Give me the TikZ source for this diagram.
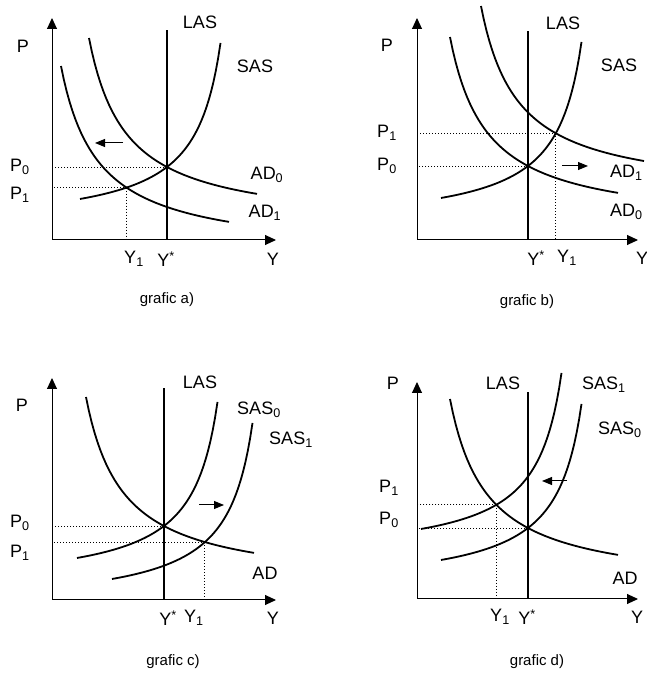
\documentclass[tikz,border=0pt]{standalone}
\usepackage{fontspec}
\setmainfont{Liberation Sans}
\usetikzlibrary{arrows.meta}

\tikzset{
  axis/.style={line width=1pt, -{Triangle[length=11pt,width=10pt]}},
  curve/.style={line width=1.8pt},
  las/.style={line width=1.8pt},
  guide/.style={line width=0.9pt, dash pattern=on 0.9pt off 2.1pt},
  push/.style={line width=1pt, -{Triangle[length=10pt,width=8pt]}},
  lbl/.style={inner sep=0pt, font=\fontsize{18}{20}\selectfont},
  graftext/.style={inner sep=0pt, font=\fontsize{15}{17}\selectfont},
  sas/.style={domain=-87:53.5},
  ad/.style={domain=-78:90}
}

\begin{document}
\begin{tikzpicture}[x=1pt, y=1pt, samples=60,
  declare function={sas(\x)=-61.4+4914/(80-\x); ad(\x)=-61.2+7036/(\x+115);}]
\useasboundingbox (0,0) rectangle (647,673);

% graf a): AD shifts left
\begin{scope}[shift={(52,433)}]
  \coordinate (a-o) at (0,0);
  \coordinate (a-top) at (0,222);
  \coordinate (a-right) at (224,0);
  \coordinate (a-las) at (115,210);
  \begin{scope}[shift={(115,73)}]
    \coordinate (a-e0) at (0,0);
    \coordinate (a-e1) at (-40.4,-20.6);
    \coordinate (a-from) at (-44,24);
    \coordinate (a-to) at (-72,24);
    \draw[guide] (a-e0) -- (a-e0 -| a-o);
    \draw[guide] (a-e1) -- (a-e1 -| a-o);
    \draw[guide] (a-e1) -- (a-e1 |- a-o);
    \draw[curve,sas] plot (\x,{sas(\x)});
    \draw[curve,ad] plot (\x,{ad(\x)});
    \draw[curve,ad,xshift=-28pt,yshift=-28pt] plot (\x,{ad(\x)});
  \end{scope}
  \draw[axis] (a-o) -- (a-top);
  \draw[axis] (a-o) -- (a-right);
  \draw[las] (a-las |- a-o) -- (a-las);
  \draw[push] (a-from) -- (a-to);

  \node[lbl] (a-P) at (-29,194) {P};
  \node[lbl] (a-LAS) at (148,218) {LAS};
  \node[lbl] (a-SAS) at (203,174) {SAS};
  \node[lbl] (a-P0) at (-32,73) {P\textsubscript{0}};
  \node[lbl] (a-P1) at (-32,45) {P\textsubscript{1}};
  \node[lbl] (a-AD0) at (215,65) {AD\textsubscript{0}};
  \node[lbl] (a-AD1) at (213,27) {AD\textsubscript{1}};
  \node[lbl] (a-Y1) at (82,-19) {Y\textsubscript{1}};
  \node[lbl] (a-Ys) at (114,-19) {Y\textsuperscript{*}};
  \node[lbl] (a-Y) at (221,-19) {Y};
  \node[graftext] (a-cap) at (115,-60) {grafic a)};
\end{scope}

% graf b): AD shifts right
\begin{scope}[shift={(417,433)}]
  \coordinate (b-o) at (0,0);
  \coordinate (b-top) at (0,222);
  \coordinate (b-right) at (221,0);
  \coordinate (b-las) at (111,209);
  \begin{scope}[shift={(111,74)}]
    \coordinate (b-e0) at (0,0);
    \coordinate (b-e1) at (27.8,32.7);
    \coordinate (b-from) at (34,0);
    \coordinate (b-to) at (60,0);
    \draw[guide] (b-e0) -- (b-e0 -| b-o);
    \draw[guide] (b-e1) -- (b-e1 -| b-o);
    \draw[guide] (b-e1) -- (b-e1 |- b-o);
    \draw[curve,sas] plot (\x,{sas(\x)});
    \draw[curve,ad] plot (\x,{ad(\x)});
    \draw[curve,ad,domain=-78:85,xshift=31pt,yshift=31pt] plot (\x,{ad(\x)});
  \end{scope}
  \draw[axis] (b-o) -- (b-top);
  \draw[axis] (b-o) -- (b-right);
  \draw[las] (b-las |- b-o) -- (b-las);
  \draw[push] (b-from) -- (b-to);

  \node[lbl] (b-P) at (-30,195) {P};
  \node[lbl] (b-LAS) at (146,217) {LAS};
  \node[lbl] (b-SAS) at (202,175) {SAS};
  \node[lbl] (b-P1) at (-30,107) {P\textsubscript{1}};
  \node[lbl] (b-P0) at (-30,74) {P\textsubscript{0}};
  \node[lbl, anchor=west] (b-AD1) at (193,67) {AD\textsubscript{1}};
  \node[lbl, anchor=west] (b-AD0) at (193,28) {AD\textsubscript{0}};
  \node[lbl] (b-Ys) at (119,-18) {Y\textsuperscript{*}};
  \node[lbl] (b-Y1) at (150,-18) {Y\textsubscript{1}};
  \node[lbl] (b-Y) at (225,-18) {Y};
  \node[graftext] (b-cap) at (110,-62) {grafic b)};
\end{scope}

% graf c): SAS shifts right
\begin{scope}[shift={(52,73)}]
  \coordinate (c-o) at (0,0);
  \coordinate (c-top) at (0,222);
  \coordinate (c-right) at (224,0);
  \coordinate (c-las) at (112,212);
  \begin{scope}[shift={(112,74)}]
    \coordinate (c-e0) at (0,0);
    \coordinate (c-e1) at (40.9,-16.05);
    \coordinate (c-from) at (35,21);
    \coordinate (c-to) at (60,21);
    \draw[guide] (c-e0) -- (c-e0 -| c-o);
    \draw[guide] (c-e1) -- (c-e1 -| c-o);
    \draw[guide] (c-e1) -- (c-e1 |- c-o);
    \draw[curve,ad] plot (\x,{ad(\x)});
    \draw[curve,sas] plot (\x,{sas(\x)});
    \draw[curve,sas,xshift=35pt,yshift=-21pt] plot (\x,{sas(\x)});
  \end{scope}
  \draw[axis] (c-o) -- (c-top);
  \draw[axis] (c-o) -- (c-right);
  \draw[las] (c-las |- c-o) -- (c-las);
  \draw[push] (c-from) -- (c-to);

  \node[lbl] (c-P) at (-30,195) {P};
  \node[lbl] (c-LAS) at (148,218) {LAS};
  \node[lbl] (c-SAS0) at (207,190) {SAS\textsubscript{0}};
  \node[lbl] (c-SAS1) at (239,160) {SAS\textsubscript{1}};
  \node[lbl] (c-P0) at (-32,77) {P\textsubscript{0}};
  \node[lbl] (c-P1) at (-32,47) {P\textsubscript{1}};
  \node[lbl] (c-AD) at (213,27) {AD};
  \node[lbl] (c-Ys) at (116,-18) {Y\textsuperscript{*}};
  \node[lbl] (c-Y1) at (142,-18) {Y\textsubscript{1}};
  \node[lbl] (c-Y) at (221,-18) {Y};
  \node[graftext] (c-cap) at (121,-62) {grafic c)};
\end{scope}

% graf d): SAS shifts left
\begin{scope}[shift={(417,74)}]
  \coordinate (d-o) at (0,0);
  \coordinate (d-top) at (0,217);
  \coordinate (d-right) at (221,0);
  \coordinate (d-las) at (111,207);
  \begin{scope}[shift={(111,71)}]
    \coordinate (d-e0) at (0,0);
    \coordinate (d-e1) at (-31.65,23.2);
    \coordinate (d-from) at (39,47);
    \coordinate (d-to) at (14,47);
    \draw[guide] (d-e0) -- (d-e0 -| d-o);
    \draw[guide] (d-e1) -- (d-e1 -| d-o);
    \draw[guide] (d-e1) -- (d-e1 |- d-o);
    \draw[curve,ad] plot (\x,{ad(\x)});
    \draw[curve,sas] plot (\x,{sas(\x)});
    \draw[curve,sas,xshift=-20pt,yshift=31pt] plot (\x,{sas(\x)});
  \end{scope}
  \draw[axis] (d-o) -- (d-top);
  \draw[axis] (d-o) -- (d-right);
  \draw[las] (d-las |- d-o) -- (d-las);
  \draw[push] (d-from) -- (d-to);

  \node[lbl] (d-P) at (-24,216) {P};
  \node[lbl] (d-LAS) at (86,216) {LAS};
  \node[lbl, anchor=west] (d-SAS1) at (165,214) {SAS\textsubscript{1}};
  \node[lbl, anchor=west] (d-SAS0) at (181,169) {SAS\textsubscript{0}};
  \node[lbl] (d-P1) at (-28,111) {P\textsubscript{1}};
  \node[lbl] (d-P0) at (-28,79) {P\textsubscript{0}};
  \node[lbl] (d-AD) at (208,21) {AD};
  \node[lbl] (d-Y1) at (83,-18) {Y\textsubscript{1}};
  \node[lbl] (d-Ys) at (110,-18) {Y\textsuperscript{*}};
  \node[lbl] (d-Y) at (220,-18) {Y};
  \node[graftext] (d-cap) at (120,-63) {grafic d)};
\end{scope}
\end{tikzpicture}
\end{document}
